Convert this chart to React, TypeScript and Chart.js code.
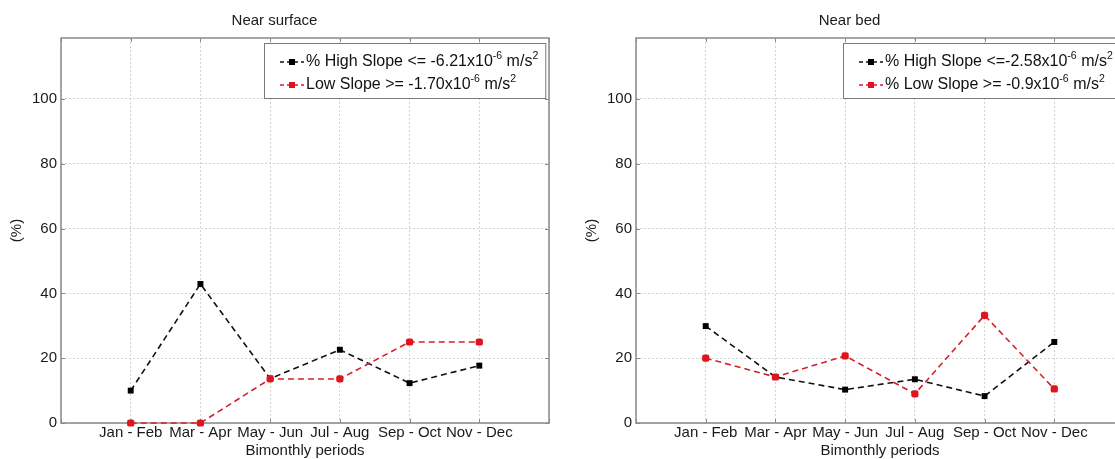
import React, { useEffect, useRef } from 'react';
import { Chart, registerables } from 'chart.js';

Chart.register(...registerables);

const FONT = '"Liberation Sans", Arial, Helvetica, sans-serif';

// ---- data ----
const periods = ['Jan - Feb', 'Mar - Apr', 'May - Jun', 'Jul - Aug', 'Sep - Oct', 'Nov - Dec'];
const yTicks = [0, 20, 40, 60, 80, 100];
const yMax = 118.8;

const surfaceTitle = 'Near surface';
const surfaceHigh = [10, 42.9, 13.7, 22.6, 12.3, 17.7];
const surfaceLow = [0, 0, 13.6, 13.6, 25, 25];
const surfaceHighLabel = '% High Slope <= -6.21x10^-6 m/s^2';
const surfaceLowLabel = 'Low Slope >= -1.70x10^-6 m/s^2';

const bedTitle = 'Near bed';
const bedHigh = [29.9, 14.2, 10.3, 13.5, 8.3, 25];
const bedLow = [20, 14.2, 20.7, 9.0, 33.2, 10.5];
const bedHighLabel = '% High Slope <=-2.58x10^-6 m/s^2';
const bedLowLabel = '% Low Slope >= -0.9x10^-6 m/s^2';

const xTitle = 'Bimonthly periods';
const yTitle = '(%)';

// ---- rich text (superscripts) ----
function splitRich(text: string) {
  return text
    .split(/(\^\S+)/)
    .filter((s) => s.length > 0)
    .map((s) => (s.startsWith('^') ? { t: s.slice(1), sup: true } : { t: s, sup: false }));
}
function richWidth(ctx: CanvasRenderingContext2D, text: string, size: number) {
  let w = 0;
  for (const p of splitRich(text)) {
    ctx.font = `${p.sup ? size * 0.66 : size}px ${FONT}`;
    w += ctx.measureText(p.t).width;
  }
  return w;
}
function drawRich(ctx: CanvasRenderingContext2D, text: string, x: number, y: number, size: number) {
  ctx.textBaseline = 'middle';
  ctx.textAlign = 'left';
  for (const p of splitRich(text)) {
    const s = p.sup ? size * 0.66 : size;
    ctx.font = `${s}px ${FONT}`;
    ctx.fillText(p.t, x, p.sup ? y - size * 0.4 : y);
    x += ctx.measureText(p.t).width;
  }
}

const richLegend = {
  id: 'richLegend',
  afterDraw(chart: any) {
    const { ctx, chartArea } = chart;
    const size = 16;
    const dsets = chart.data.datasets;
    ctx.save();
    let tw = 0;
    dsets.forEach((d: any) => {
      tw = Math.max(tw, richWidth(ctx, d.label, size));
    });
    const w = 42 + tw + 7;
    const h = 55;
    const x0 = Math.round(chartArea.right - 4 - w);
    const y0 = Math.round(chartArea.top + 5);
    ctx.fillStyle = '#ffffff';
    ctx.fillRect(x0, y0, w, h);
    ctx.strokeStyle = '#7a7a7a';
    ctx.lineWidth = 1;
    ctx.setLineDash([]);
    ctx.strokeRect(x0 + 0.5, y0 + 0.5, w, h);
    dsets.forEach((d: any, i: number) => {
      const y = y0 + 19 + i * 23;
      ctx.strokeStyle = d.borderColor;
      ctx.lineWidth = d.borderWidth;
      ctx.setLineDash([4, 3]);
      ctx.beginPath();
      ctx.moveTo(x0 + 16, y);
      ctx.lineTo(x0 + 40, y);
      ctx.stroke();
      ctx.setLineDash([]);
      ctx.fillStyle = d.pointBackgroundColor;
      ctx.fillRect(x0 + 25, y - 3, 6, 6);
      ctx.fillStyle = '#111111';
      drawRich(ctx, d.label, x0 + 42, y, size);
    });
    ctx.restore();
  },
};

const framePlugin = {
  id: 'frame',
  beforeDatasetsDraw(chart: any) {
    const { ctx, chartArea, scales } = chart;
    const { left, right, top, bottom } = chartArea;
    ctx.save();
    ctx.setLineDash([]);
    ctx.strokeStyle = '#8a8a8a';
    ctx.lineWidth = 1.5;
    ctx.strokeRect(left, top, right - left, bottom - top);
    ctx.lineWidth = 1;
    ctx.beginPath();
    scales.x.ticks.forEach((_: any, i: number) => {
      const px = Math.round(scales.x.getPixelForTick(i)) + 0.5;
      ctx.moveTo(px, bottom);
      ctx.lineTo(px, bottom - 4);
      ctx.moveTo(px, top);
      ctx.lineTo(px, top + 4);
    });
    scales.y.ticks.forEach((_: any, i: number) => {
      const py = Math.round(scales.y.getPixelForTick(i)) + 0.5;
      ctx.moveTo(left, py);
      ctx.lineTo(left + 4, py);
      ctx.moveTo(right, py);
      ctx.lineTo(right - 4, py);
    });
    ctx.stroke();
    ctx.restore();
  },
};

function makeConfig(title: string, high: number[], low: number[], highLabel: string, lowLabel: string): any {
  const labels = ['', ...periods, ''];
  const pad = (arr: number[]) => [null, ...arr, null];
  return {
    type: 'line',
    data: {
      labels,
      datasets: [
        {
          label: highLabel,
          data: pad(high),
          borderColor: '#111111',
          backgroundColor: '#000000',
          pointBackgroundColor: '#000000',
          pointBorderColor: '#000000',
          pointStyle: 'rect',
          pointRadius: 4.2,
          pointBorderWidth: 0,
          borderWidth: 1.6,
          borderDash: [6, 4],
          tension: 0,
          clip: false,
          order: 1,
        },
        {
          label: lowLabel,
          data: pad(low),
          borderColor: '#d42029',
          backgroundColor: '#e0141e',
          pointBackgroundColor: '#e0141e',
          pointBorderColor: '#e0141e',
          pointStyle: 'rectRounded',
          pointRadius: 4.2,
          pointBorderWidth: 0,
          borderWidth: 1.6,
          borderDash: [6, 4],
          tension: 0,
          clip: false,
          order: 0,
        },
      ],
    },
    options: {
      animation: false,
      responsive: false,
      devicePixelRatio: 1,
      layout: { padding: { left: 0, right: 61, top: 0, bottom: 0 } },
      plugins: {
        legend: { display: false },
        tooltip: { enabled: false },
        title: {
          display: true,
          text: title,
          color: '#1a1a1a',
          font: { family: FONT, size: 15, weight: 'normal', lineHeight: 1.2 },
          padding: { top: 12, bottom: 8 },
        },
      },
      scales: {
        x: {
          type: 'category',
          offset: false,
          grid: { color: '#d2d2d2', drawTicks: false, lineWidth: 1 },
          border: { display: false, dash: [2, 2] },
          ticks: {
            autoSkip: false,
            maxRotation: 0,
            minRotation: 0,
            padding: 1,
            color: '#1a1a1a',
            font: { family: FONT, size: 15 },
          },
          title: {
            display: true,
            text: xTitle,
            color: '#1a1a1a',
            font: { family: FONT, size: 15, lineHeight: 1.1 },
            padding: 0,
          },
          afterFit: (s: any) => {
            s.height = 36;
          },
        },
        y: {
          min: 0,
          max: yMax,
          grid: { color: '#d2d2d2', drawTicks: false, lineWidth: 1 },
          border: { display: false, dash: [2, 2] },
          afterBuildTicks: (s: any) => {
            s.ticks = yTicks.map((v) => ({ value: v }));
          },
          ticks: {
            padding: 4,
            color: '#1a1a1a',
            font: { family: FONT, size: 15 },
          },
          title: {
            display: true,
            text: yTitle,
            color: '#1a1a1a',
            font: { family: FONT, size: 15, lineHeight: 1.2 },
            padding: { top: 8, bottom: 0 },
          },
          afterFit: (s: any) => {
            s.width = 61;
          },
        },
      },
    },
    plugins: [framePlugin, richLegend],
  };
}

function Panel(props: { left: number; title: string; high: number[]; low: number[]; highLabel: string; lowLabel: string }) {
  const ref = useRef<HTMLCanvasElement>(null);
  useEffect(() => {
    const chart = new Chart(ref.current as HTMLCanvasElement, makeConfig(props.title, props.high, props.low, props.highLabel, props.lowLabel));
    return () => chart.destroy();
  }, []);
  return (
    <canvas
      ref={ref}
      width={610}
      height={459}
      style={{ position: 'absolute', left: props.left, top: 0, width: 610, height: 459 }}
    />
  );
}

export default function App() {
  return (
    <div
      style={{
        position: 'fixed',
        left: 0,
        top: 0,
        width: 1115,
        height: 459,
        overflow: 'hidden',
        background: '#ffffff',
      }}
    >
      <Panel left={0} title={surfaceTitle} high={surfaceHigh} low={surfaceLow} highLabel={surfaceHighLabel} lowLabel={surfaceLowLabel} />
      <Panel left={575} title={bedTitle} high={bedHigh} low={bedLow} highLabel={bedHighLabel} lowLabel={bedLowLabel} />
    </div>
  );
}
